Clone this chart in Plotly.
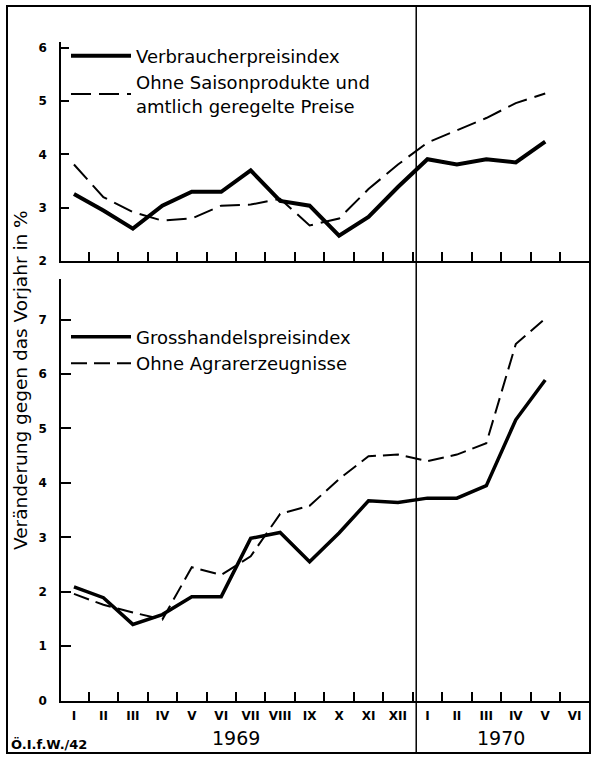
import plotly.graph_objects as go

# ---- data ----
months = ["I", "II", "III", "IV", "V", "VI", "VII", "VIII", "IX", "X", "XI", "XII",
          "I", "II", "III", "IV", "V", "VI"]
month_idx = list(range(len(months)))
data_idx = list(range(17))  # Jan 1969 .. May 1970

verbraucher = [3.26, 2.95, 2.61, 3.04, 3.30, 3.30, 3.70, 3.13, 3.04, 2.48, 2.83, 3.39,
               3.91, 3.81, 3.91, 3.85, 4.24]
ohne_saison = [3.81, 3.20, 2.92, 2.76, 2.80, 3.04, 3.06, 3.17, 2.67, 2.80, 3.35, 3.81,
               4.22, 4.45, 4.68, 4.96, 5.14]
grosshandel = [2.09, 1.89, 1.40, 1.58, 1.91, 1.91, 2.98, 3.09, 2.55, 3.08, 3.67, 3.64,
               3.72, 3.72, 3.95, 5.16, 5.89]
ohne_agrar = [1.96, 1.76, 1.62, 1.49, 2.45, 2.31, 2.65, 3.43, 3.58, 4.07, 4.49, 4.52,
              4.40, 4.52, 4.73, 6.55, 7.02]

top_yticks = [2, 3, 4, 5, 6]
bot_yticks = [0, 1, 2, 3, 4, 5, 6, 7]
month_bounds = [i + 0.5 for i in range(17)]
year_bounds = [5.5, 14.5]
years = ["1969", "1970"]
year_divider = 11.62

W, H = 593, 763
FONT = "DejaVu Sans"

def px_x(p):
    return p / W

def px_y(p):
    return 1 - p / H

xrange_ = [-0.44, 17.52]
xdom = [px_x(61), px_x(590)]
top_dom = [px_y(263), px_y(41.6)]
bot_dom = [px_y(707), px_y(280.75)]

fig = go.Figure()

fig.add_trace(go.Scatter(x=data_idx, y=verbraucher, mode="lines", name="Verbraucherpreisindex",
                         line=dict(color="black", width=4), xaxis="x2", yaxis="y2", legend="legend"))
fig.add_trace(go.Scatter(x=data_idx, y=ohne_saison, mode="lines",
                         name="Ohne Saisonprodukte und<br>amtlich geregelte Preise",
                         line=dict(color="black", width=2, dash="20px,8px"), xaxis="x2", yaxis="y2",
                         legend="legend"))
fig.add_trace(go.Scatter(x=data_idx, y=grosshandel, mode="lines", name="Grosshandelspreisindex",
                         line=dict(color="black", width=3.5), xaxis="x", yaxis="y", legend="legend2"))
fig.add_trace(go.Scatter(x=data_idx, y=ohne_agrar, mode="lines", name="Ohne Agrarerzeugnisse",
                         line=dict(color="black", width=2, dash="16px,7px"), xaxis="x3", yaxis="y",
                         legend="legend2"))

axis_common = dict(showgrid=False, zeroline=False, showline=True, linecolor="black", linewidth=1.5)

fig.update_layout(
    autosize=True,
    margin=dict(l=0, r=0, t=0, b=0),
    paper_bgcolor="white", plot_bgcolor="white",
    font=dict(family=FONT, color="black"),
    showlegend=True,
    # bottom panel x axis: long ticks (major) + short ticks (minor)
    xaxis=dict(domain=xdom, range=xrange_, anchor="y", **axis_common,
               tickmode="array", tickvals=year_bounds, ticktext=["", ""],
               ticks="inside", ticklen=16, tickwidth=1.5, tickcolor="black",
               minor=dict(tickmode="array", tickvals=month_bounds, ticks="inside",
                          ticklen=9, tickwidth=1.5, tickcolor="black")),
    # month labels on an overlaying axis
    xaxis3=dict(domain=xdom, range=xrange_, anchor="y", overlaying="x", side="bottom",
                showgrid=False, zeroline=False, showline=False,
                tickmode="array", tickvals=month_idx, ticktext=months, ticks="",
                tickfont=dict(family=FONT, size=12, weight="bold"), ticklabelstandoff=6),
    xaxis2=dict(domain=xdom, range=xrange_, anchor="y2", **axis_common,
                tickmode="array", tickvals=year_bounds, ticktext=["", ""], showticklabels=False,
                ticks="inside", ticklen=16, tickwidth=1.5, tickcolor="black",
                minor=dict(tickmode="array", tickvals=month_bounds, ticks="inside",
                           ticklen=9, tickwidth=1.5, tickcolor="black")),
    yaxis=dict(domain=bot_dom, range=[0, 7.75], anchor="x", **axis_common,
               tickmode="array", tickvals=bot_yticks, ticks="inside", ticklen=10,
               tickwidth=1.5, tickcolor="black",
               tickfont=dict(family=FONT, size=12, weight="bold"), ticklabelstandoff=10),
    yaxis2=dict(domain=top_dom, range=[2, 6.1], anchor="x2", **axis_common,
                tickmode="array", tickvals=top_yticks, ticks="inside", ticklen=8,
                tickwidth=1.5, tickcolor="black",
                tickfont=dict(family=FONT, size=12, weight="bold"), ticklabelstandoff=10),
    legend=dict(x=px_x(66), y=px_y(37), xanchor="left", yanchor="top",
                bgcolor="rgba(0,0,0,0)", font=dict(family=FONT, size=18),
                itemwidth=60, tracegroupgap=0, borderwidth=0),
    legend2=dict(x=px_x(66), y=px_y(321), xanchor="left", yanchor="top",
                 bgcolor="rgba(0,0,0,0)", font=dict(family=FONT, size=18),
                 itemwidth=60, tracegroupgap=0, borderwidth=0),
)

# frame and year divider
fig.add_shape(type="rect", xref="paper", yref="paper", x0=px_x(7), x1=px_x(590),
              y0=px_y(760), y1=px_y(5), line=dict(color="black", width=2))
fig.add_shape(type="line", xref="x", yref="paper", x0=year_divider, x1=year_divider,
              y0=px_y(760), y1=px_y(5), line=dict(color="black", width=1.5))

# year labels
for yr, pos in zip(years, year_bounds):
    fig.add_annotation(x=pos, xref="x", y=px_y(745), yref="paper", text=yr, showarrow=False,
                       font=dict(family=FONT, size=19), xanchor="center", yanchor="middle")

# source label
fig.add_annotation(x=px_x(9), y=px_y(751), xref="paper", yref="paper", text="Ö.I.f.W./42",
                   showarrow=False, xanchor="left", yanchor="middle",
                   font=dict(family=FONT, size=13, weight="bold"))

# y-axis title
fig.add_annotation(x=px_x(21), y=px_y(383), xref="paper", yref="paper",
                   text="Veränderung gegen das Vorjahr in %", textangle=-90, showarrow=False,
                   xanchor="center", yanchor="middle", font=dict(family=FONT, size=18.5))

html = fig.to_html(config={"displayModeBar": False, "responsive": True},
                   default_width="100vw", default_height="100vh")
html = html.replace("<head>", "<head><style>html,body{margin:0;padding:0;overflow:hidden;"
                    "width:100%;height:100%;}</style>", 1)
with open("out.html", "w", encoding="utf-8") as f:
    f.write(html)
